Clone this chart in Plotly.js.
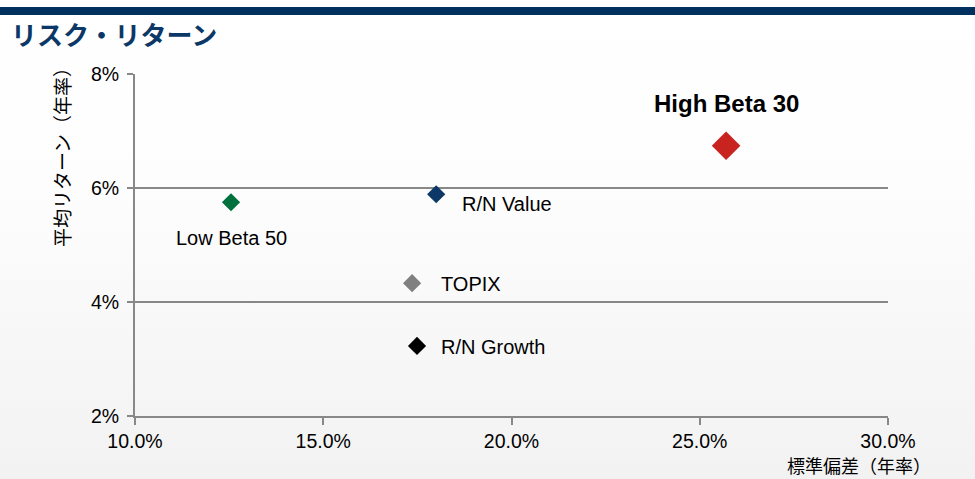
<!DOCTYPE html>
<html>
<head>
<meta charset="utf-8">
<script src="https://cdn.plot.ly/plotly-3.0.1.min.js"></script>
<style>
html,body{margin:0;padding:0;}
body{width:975px;height:479px;background:linear-gradient(to bottom,#ffffff 0%,#fdfdfd 40%,#f2f2f2 100%);overflow:hidden;}
#chart{width:975px;height:479px;}
</style>
</head>
<body>
<div id="chart"></div>
<script>
// Data (percent)
const names = ["Low Beta 50", "R/N Value", "TOPIX", "R/N Growth", "High Beta 30"];
const risk = [12.55, 18.0, 17.36, 17.49, 25.7];     // 標準偏差（年率）
const ret = [5.75, 5.89, 4.33, 3.23, 6.74];         // 平均リターン（年率）
const colors = ["#00703C", "#0B3866", "#808080", "#000000", "#C8231F"];
const sizes = [14, 14, 14, 14, 22];
const xTicks = [10, 15, 20, 25, 30];
const yTicks = [2, 4, 6, 8];

const titleText = "リスク・リターン";
const xTitle = "標準偏差（年率）";
const yTitle = "平均リターン（年率）";

const latin = "'Liberation Sans', Arial, sans-serif";
const cjk = "'Noto Sans CJK JP', 'Liberation Sans', sans-serif";
const axisColor = "#888888";

const traces = names.map((n, i) => ({
  type: "scatter",
  mode: "markers",
  x: [risk[i]],
  y: [ret[i]],
  name: n,
  marker: {symbol: "diamond", size: sizes[i], color: colors[i], line: {width: 0}},
  hoverinfo: "x+y+name"
}));

// label placement (pixels relative to each point)
const labelOpts = [
  {xanchor: "center", xshift: 0, yshift: -36, bold: false},
  {xanchor: "left", xshift: 24, yshift: -10, bold: false},
  {xanchor: "left", xshift: 27, yshift: -1, bold: false},
  {xanchor: "left", xshift: 22, yshift: -1, bold: false},
  {xanchor: "center", xshift: 0, yshift: 42, bold: true}
];

const annotations = names.map((n, i) => ({
  x: risk[i], y: ret[i], xref: "x", yref: "y",
  text: labelOpts[i].bold ? "<b>" + n + "</b>" : n,
  showarrow: false,
  xanchor: labelOpts[i].xanchor, yanchor: "middle",
  xshift: labelOpts[i].xshift, yshift: labelOpts[i].yshift,
  font: {family: latin, size: labelOpts[i].bold ? 24 : 20, color: "#000000"}
}));

annotations.push({
  text: "<b>" + titleText + "</b>", xref: "paper", yref: "paper",
  x: -0.167, y: 1.117, xanchor: "left", yanchor: "middle", showarrow: false,
  font: {family: cjk, size: 26, color: "#0B3866"}
});
annotations.push({
  text: yTitle, xref: "paper", yref: "paper", textangle: -90,
  x: -0.097, y: 0.772, xanchor: "center", yanchor: "middle", showarrow: false,
  font: {family: cjk, size: 19, color: "#000000"}
});
annotations.push({
  text: xTitle, xref: "paper", yref: "paper",
  x: 1.058, y: -0.1433, xanchor: "right", yanchor: "middle", showarrow: false,
  borderpad: 0,
  font: {family: cjk, size: 18, color: "#000000"}
});

const layout = {
  width: 975, height: 479,
  margin: {l: 135, r: 87, t: 74, b: 63},
  paper_bgcolor: "rgba(0,0,0,0)",
  plot_bgcolor: "rgba(0,0,0,0)",
  showlegend: false,
  font: {family: latin, size: 19, color: "#000000"},
  xaxis: {
    range: [10, 30], tickvals: xTicks, ticktext: xTicks.map(v => v.toFixed(1) + "%"),
    showgrid: false, zeroline: false,
    showline: true, linecolor: axisColor, linewidth: 2,
    ticks: "outside", ticklen: 7, tickwidth: 2, tickcolor: axisColor,
    ticklabelstandoff: 0,
    tickfont: {family: latin, size: 19.5, color: "#000"}
  },
  yaxis: {
    range: [2, 8], tickvals: yTicks, ticktext: yTicks.map(v => v + "%"),
    showgrid: true, gridcolor: axisColor, gridwidth: 2, zeroline: false,
    showline: true, linecolor: axisColor, linewidth: 2,
    ticks: "outside", ticklen: 6, tickwidth: 2, tickcolor: axisColor,
    ticklabelstandoff: 4,
    tickfont: {family: latin, size: 19.5, color: "#000"}
  },
  shapes: [{
    type: "rect", xref: "paper", yref: "paper",
    x0: -0.19, x1: 1.2, y0: 1.1725, y1: 1.196,
    fillcolor: "#00305E", line: {width: 0}, layer: "above"
  }],
  annotations: annotations
};

Plotly.newPlot("chart", traces, layout, {displayModeBar: false, staticPlot: true});
</script>
</body>
</html>
